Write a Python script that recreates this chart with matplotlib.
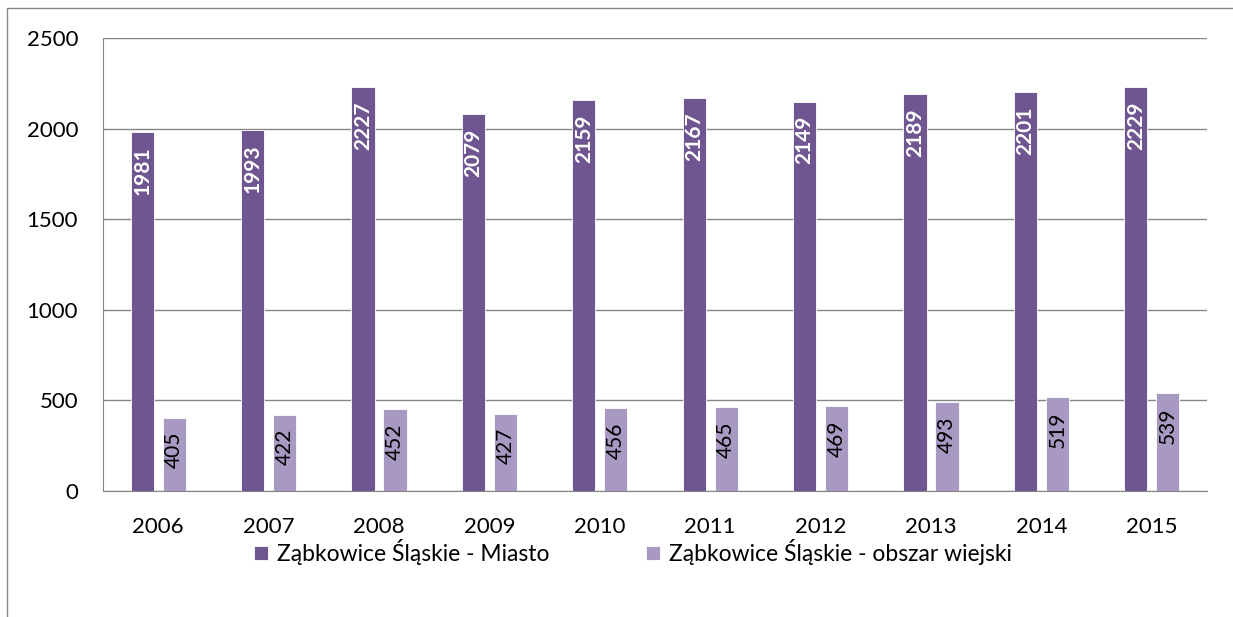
import numpy as np
import matplotlib.pyplot as plt
from matplotlib.patches import Rectangle

years = ["2006", "2007", "2008", "2009", "2010", "2011", "2012", "2013", "2014", "2015"]
miasto = [1981, 1993, 2227, 2079, 2159, 2167, 2149, 2189, 2201, 2229]
wies = [405, 422, 452, 427, 456, 465, 469, 493, 519, 539]
labels = ["Ząbkowice Śląskie - Miasto", "Ząbkowice Śląskie - obszar wiejski"]

dark = "#6f5690"
light = "#a899c2"
grid = "#868686"

plt.rcParams["font.family"] = ["Lato", "DejaVu Sans"]

fig = plt.figure(figsize=(12.33, 6.17), dpi=100)
ax = fig.add_axes([103 / 1233, 1 - 491 / 617, 1104 / 1233, 453 / 617])

# outer frame of the chart object (left and top only visible)
fig.add_artist(Rectangle((7 / 1233, -0.1), 1.2, 1 - 8 / 617 + 0.1, transform=fig.transFigure,
                         fill=False, edgecolor=grid, linewidth=1))

x = np.arange(len(years))
w = 0.21
off = 0.145
ax.bar(x - off, miasto, w, color=dark, edgecolor="white", linewidth=0.6, zorder=3, label=labels[0])
ax.bar(x + off, wies, w, color=light, edgecolor="white", linewidth=0.6, zorder=3, label=labels[1])

for xi, v in zip(x, miasto):
    ax.text(xi - off, v - 80, str(v), rotation=90, ha="center", va="top",
            color="white", fontsize=15, fontweight="bold", zorder=4)
for xi, v in zip(x, wies):
    ax.text(xi + off, v - 80, str(v), rotation=90, ha="center", va="top",
            color="black", fontsize=15, zorder=4)

ax.set_xlim(-0.5, len(years) - 0.5)
ax.set_ylim(0, 2500)
ax.set_yticks(range(0, 2501, 500))
ax.set_xticks(x)
ax.set_xticklabels(years)
ax.yaxis.grid(True, color=grid, linewidth=1, zorder=0)
ax.set_axisbelow(True)
ax.tick_params(length=0, labelsize=16)
ax.tick_params(axis="x", pad=19)
ax.tick_params(axis="y", pad=18)
for s in ["top", "right"]:
    ax.spines[s].set_visible(False)
for s in ["left", "bottom"]:
    ax.spines[s].set_color(grid)

ax.legend(loc="center", bbox_to_anchor=(0.48, -0.135), ncol=2, frameon=False,
          fontsize=16.5, handlelength=0.6, handleheight=0.6, handletextpad=0.4,
          columnspacing=4.2)

fig.savefig("out.png", dpi=100)
